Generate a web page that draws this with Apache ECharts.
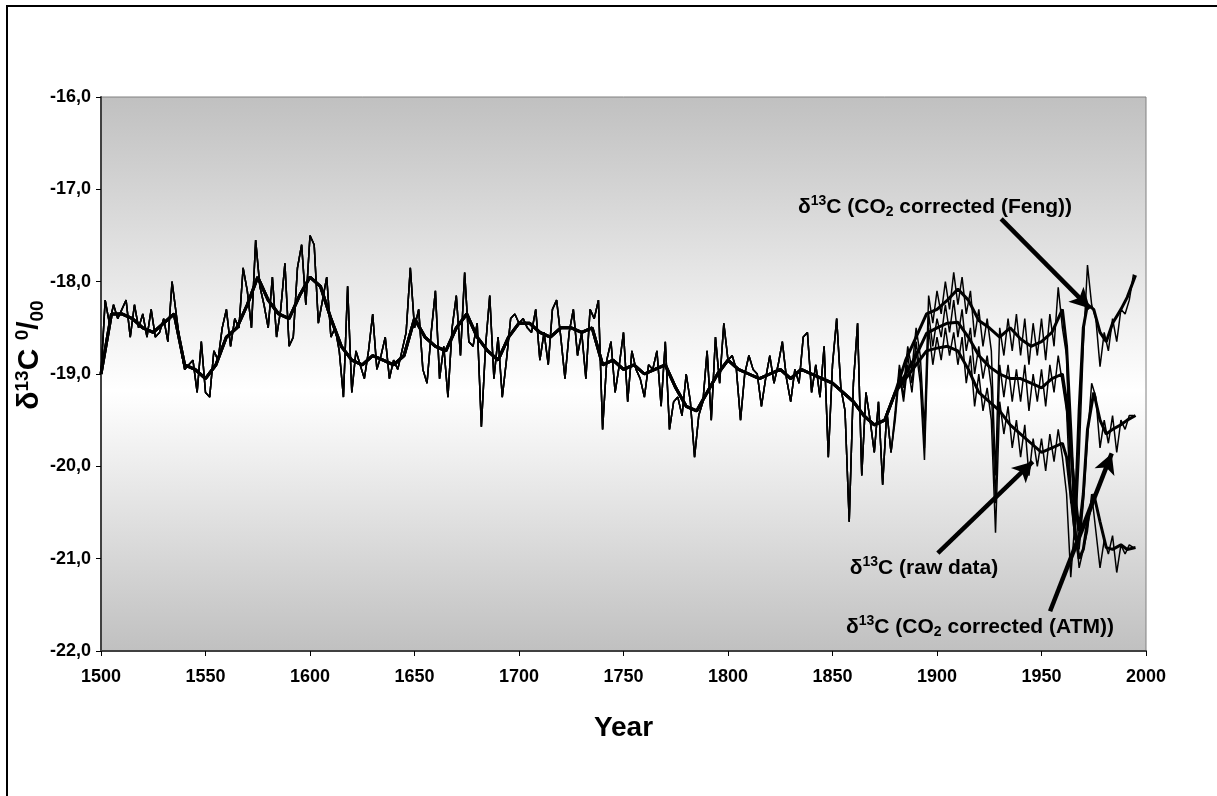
<!DOCTYPE html>
<html>
<head>
<meta charset="utf-8">
<script src="https://cdn.jsdelivr.net/npm/echarts@6/dist/echarts.min.js"></script>
<style>
html,body{margin:0;padding:0;background:#fff;}
#chart{width:1217px;height:796px;}
</style>
</head>
<body>
<div id="chart"></div>
<script>
// ---- Data ----
// Thin series common to all three curves (pre-industrial), every 2 years 1500..1878
const thinCommonStart = 1500, thinStep = 2;
const thinCommon = [
-19.0,-18.2,-18.45,-18.25,-18.4,-18.3,-18.2,-18.6,-18.25,-18.5,
-18.35,-18.6,-18.3,-18.6,-18.55,-18.4,-18.65,-18.0,-18.35,-18.7,
-18.95,-18.9,-18.85,-19.2,-18.65,-19.2,-19.25,-18.75,-18.85,-18.5,
-18.3,-18.7,-18.4,-18.5,-17.85,-18.1,-18.5,-17.55,-18.05,-18.25,
-18.5,-17.95,-18.6,-18.3,-17.8,-18.7,-18.6,-17.85,-17.6,-18.25,
-17.5,-17.6,-18.45,-18.2,-17.95,-18.6,-18.5,-18.75,-19.25,-18.05,
-19.2,-18.75,-18.9,-19.05,-18.75,-18.35,-18.95,-18.8,-18.6,-19.05,
-18.85,-18.95,-18.75,-18.55,-17.85,-18.5,-18.3,-18.95,-19.1,-18.55,
-18.1,-19.05,-18.7,-19.25,-18.5,-18.15,-18.8,-17.9,-18.65,-18.7,
-18.45,-19.57,-18.7,-18.15,-19.05,-18.6,-19.25,-18.85,-18.4,-18.35,
-18.45,-18.4,-18.5,-18.55,-18.3,-18.85,-18.55,-18.9,-18.3,-18.2,
-18.6,-19.05,-18.55,-18.3,-18.8,-18.55,-19.05,-18.3,-18.4,-18.2,
-19.6,-18.85,-18.65,-19.2,-18.9,-18.55,-19.3,-18.75,-18.95,-19.05,
-19.25,-18.9,-18.95,-18.75,-19.35,-18.65,-19.6,-19.3,-19.25,-19.45,
-19.0,-19.3,-19.9,-19.45,-19.3,-18.75,-19.5,-18.6,-19.1,-18.45,
-18.85,-18.8,-18.95,-19.5,-19.0,-18.8,-18.95,-19.0,-19.35,-19.05,
-18.8,-19.1,-18.9,-18.65,-19.05,-19.3,-18.95,-19.1,-18.6,-18.55,
-19.2,-18.9,-19.25,-18.7,-19.9,-18.9,-18.4,-19.15,-19.4,-20.6,
-19.1,-18.45,-20.1,-19.2,-19.5,-19.85,-19.3,-20.2,-19.4,-19.85
];
// Thin series after 1880 (every 2 years 1880..1994)
const thinPostStart = 1880;
const thinRaw = [
-19.5,-19.0,-19.3,-18.9,-19.2,-18.75,-19.1,-19.93,-18.5,-18.9,
-18.6,-18.85,-18.5,-18.8,-18.55,-18.9,-18.6,-19.1,-18.8,-19.35,
-19.0,-19.4,-19.15,-19.5,-20.72,-19.3,-19.65,-19.35,-19.8,-19.5,
-19.9,-19.55,-20.1,-19.7,-20.0,-19.7,-20.05,-19.65,-19.95,-19.6,
-19.9,-20.3,-21.2,-20.6,-21.1,-20.9,-20.7,-20.3,-20.7,-21.1,
-20.8,-20.95,-20.75,-21.15,-20.85,-20.95,-20.85,-20.88
];
const thinATM = [
-19.45,-18.95,-19.25,-18.8,-19.1,-18.65,-19.0,-19.8,-18.35,-18.7,
-18.4,-18.6,-18.25,-18.55,-18.2,-18.6,-18.3,-18.75,-18.5,-19.0,
-18.7,-19.05,-18.8,-19.15,-20.4,-18.9,-19.25,-18.9,-19.3,-18.95,
-19.3,-18.9,-19.4,-19.0,-19.3,-18.95,-19.35,-18.9,-19.2,-18.8,
-19.1,-19.4,-20.4,-20.2,-20.9,-20.4,-19.7,-19.1,-19.25,-19.8,
-19.5,-19.75,-19.45,-19.85,-19.5,-19.6,-19.45,-19.45
];
const thinFeng = [
-19.4,-18.9,-19.15,-18.7,-18.95,-18.5,-18.8,-19.6,-18.15,-18.45,
-18.1,-18.35,-18.0,-18.3,-17.9,-18.25,-17.95,-18.35,-18.1,-18.6,
-18.3,-18.7,-18.4,-18.75,-20.1,-18.5,-18.8,-18.4,-18.75,-18.35,
-18.8,-18.4,-18.9,-18.45,-18.8,-18.4,-18.85,-18.35,-18.7,-18.06,
-18.5,-18.8,-20.3,-20.8,-19.9,-18.7,-17.82,-18.25,-18.4,-18.92,
-18.55,-18.75,-18.4,-18.65,-18.3,-18.35,-18.2,-17.92
];
// Smoothed (thick) series common part, every 5 years 1500..1880
const thickCommonStart = 1500, thickStep = 5;
const thickCommon = [
-19.0,-18.35,-18.35,-18.4,-18.5,-18.55,-18.45,-18.35,-18.9,-18.95,
-19.05,-18.9,-18.6,-18.5,-18.25,-17.95,-18.2,-18.35,-18.4,-18.15,
-17.95,-18.05,-18.4,-18.7,-18.85,-18.9,-18.8,-18.85,-18.9,-18.8,
-18.4,-18.6,-18.7,-18.75,-18.5,-18.35,-18.6,-18.75,-18.85,-18.6,
-18.45,-18.45,-18.55,-18.6,-18.5,-18.5,-18.55,-18.5,-18.9,-18.85,
-18.95,-18.9,-19.0,-18.95,-18.9,-19.15,-19.35,-19.4,-19.2,-19.0,
-18.85,-18.95,-19.0,-19.05,-19.0,-18.95,-19.05,-18.95,-19.0,-19.05,
-19.1,-19.2,-19.3,-19.45,-19.55,-19.5,-19.2
];
// Smoothed series after 1880
const thickPostYears = [1885,1890,1895,1900,1905,1910,1915,1920,1925,1930,1935,1940,1945,1950,1955,1960,1962,1964,1966,1968,1970,1972,1975,1978,1981,1984,1988,1991,1995];
const thickRaw  = [-19.05,-18.9,-18.75,-18.72,-18.7,-18.75,-18.95,-19.2,-19.3,-19.4,-19.55,-19.65,-19.75,-19.85,-19.8,-19.75,-19.9,-20.3,-20.7,-21.0,-20.9,-20.6,-20.3,-20.6,-20.88,-20.9,-20.85,-20.9,-20.88];
const thickATM  = [-19.0,-18.8,-18.56,-18.5,-18.45,-18.44,-18.6,-18.8,-18.92,-19.0,-19.05,-19.05,-19.1,-19.15,-19.05,-19.0,-19.3,-19.8,-20.3,-20.7,-20.3,-19.6,-19.2,-19.5,-19.65,-19.6,-19.55,-19.5,-19.45];
const thickFeng = [-18.85,-18.6,-18.35,-18.3,-18.2,-18.08,-18.2,-18.42,-18.5,-18.6,-18.5,-18.62,-18.7,-18.65,-18.55,-18.3,-18.7,-19.6,-20.6,-19.4,-18.5,-18.25,-18.3,-18.55,-18.65,-18.45,-18.3,-18.17,-17.93];

// Axis ticks
const xTicks = {min:1500, max:2000, step:50};
const yTicks = {min:-22, max:-16, step:1};

// Annotation arrows [startYear, startValue, endYear, endValue]
const arrowFeng = [1930.7, -17.32, 1973.2, -18.29];
const arrowRaw  = [1900.4, -20.94, 1945.8, -19.95];
const arrowATM  = [1954.1, -21.57, 1983.6, -19.86];

// ---- Build ----
function seq(start, step, vals){ return vals.map((v,i)=>[start+i*step, v]); }
function pairs(years, vals){ return vals.map((v,i)=>[years[i], v]); }
const commonThin = seq(thinCommonStart, thinStep, thinCommon);
const commonThick = seq(thickCommonStart, thickStep, thickCommon);

const FONT = '"Liberation Sans", Arial, Helvetica, sans-serif';
const chart = echarts.init(document.getElementById('chart'), null, {renderer:'canvas'});

function thin(vals){
  return {type:'line', data: commonThin.concat(seq(thinPostStart, thinStep, vals)), showSymbol:false, symbol:'none',
    lineStyle:{color:'#000', width:1.5}, silent:true, z:2};
}
function thick(vals, extra){
  return Object.assign({type:'line', data: commonThick.concat(pairs(thickPostYears, vals)), showSymbol:false, symbol:'none',
    lineStyle:{color:'#000', width:3}, silent:true, z:3}, extra||{});
}
function arrow(a){ return [{coord:[a[0],a[1]]},{coord:[a[2],a[3]]}]; }

const tokenBase = {fontFamily:FONT, fontWeight:'bold', fill:'#000'};
function richSet(big, small){
  return {
    m: Object.assign({fontSize:big, lineHeight:big+4, verticalAlign:'middle'}, tokenBase),
    s: Object.assign({fontSize:small, lineHeight:big+4, verticalAlign:'top'}, tokenBase),
    b: Object.assign({fontSize:small, lineHeight:big+4, verticalAlign:'bottom'}, tokenBase)
  };
}

const option = {
  animation:false,
  backgroundColor:'#fff',
  grid:{left:101, top:97, right:71, bottom:145, show:true,
    backgroundColor:{type:'linear', x:0, y:0, x2:0, y2:1, colorStops:[
      {offset:0, color:'#c0c0c0'},{offset:0.53, color:'#ffffff'},{offset:1, color:'#c0c0c0'}]},
    borderColor:'#808080', borderWidth:1},
  xAxis:{type:'value', min:xTicks.min, max:xTicks.max, interval:xTicks.step,
    axisLine:{show:true, onZero:false, lineStyle:{color:'#404040', width:2}},
    axisTick:{show:true, length:5, lineStyle:{color:'#000', width:1}},
    axisLabel:{margin:17, fontFamily:FONT, fontSize:18, fontWeight:'bold', color:'#000',
      formatter:v=>String(v)},
    splitLine:{show:false},
    name:'Year', nameLocation:'middle', nameGap:63,
    nameTextStyle:{fontFamily:FONT, fontSize:28, fontWeight:'bold', color:'#000'}},
  yAxis:{type:'value', min:yTicks.min, max:yTicks.max, interval:yTicks.step,
    axisLine:{show:true, onZero:false, lineStyle:{color:'#404040', width:2}},
    axisTick:{show:true, length:5, lineStyle:{color:'#000', width:1}},
    axisLabel:{margin:10, fontFamily:FONT, fontSize:18, fontWeight:'bold', color:'#000',
      formatter:v=>v.toFixed(1).replace('.',',')},
    splitLine:{show:false}},
  series:[
    thin(thinRaw), thin(thinATM), thin(thinFeng),
    thick(thickRaw), thick(thickATM),
    thick(thickFeng, {markLine:{silent:true, animation:false, symbol:['none','arrow'], symbolSize:[16,20],
      lineStyle:{color:'#000', width:4.5, type:'solid'}, label:{show:false},
      emphasis:{disabled:true},
      data:[arrow(arrowFeng), arrow(arrowRaw), arrow(arrowATM)]}})
  ],
  graphic:[
    {type:'rect', shape:{x:7, y:6, width:1300, height:900}, style:{fill:'none', stroke:'#000', lineWidth:2}, silent:true, z:100},
    {type:'text', x:30, y:355, rotation:Math.PI/2, silent:true, z:100,
      style:{text:'{m|δ}{s|13}{m|C }{s|0}{m|/}{b|00}', rich:richSet(30,19), align:'center', verticalAlign:'middle'}},
    {type:'text', x:935, y:207, silent:true, z:100,
      style:{text:'{m|δ}{s|13}{m|C (CO}{b|2}{m| corrected (Feng))}', rich:richSet(21,14), align:'center', verticalAlign:'middle'}},
    {type:'text', x:924, y:568, silent:true, z:100,
      style:{text:'{m|δ}{s|13}{m|C (raw data)}', rich:richSet(21,14), align:'center', verticalAlign:'middle'}},
    {type:'text', x:980, y:627, silent:true, z:100,
      style:{text:'{m|δ}{s|13}{m|C (CO}{b|2}{m| corrected (ATM))}', rich:richSet(21,14), align:'center', verticalAlign:'middle'}}
  ]
};
chart.setOption(option);
</script>
</body>
</html>
